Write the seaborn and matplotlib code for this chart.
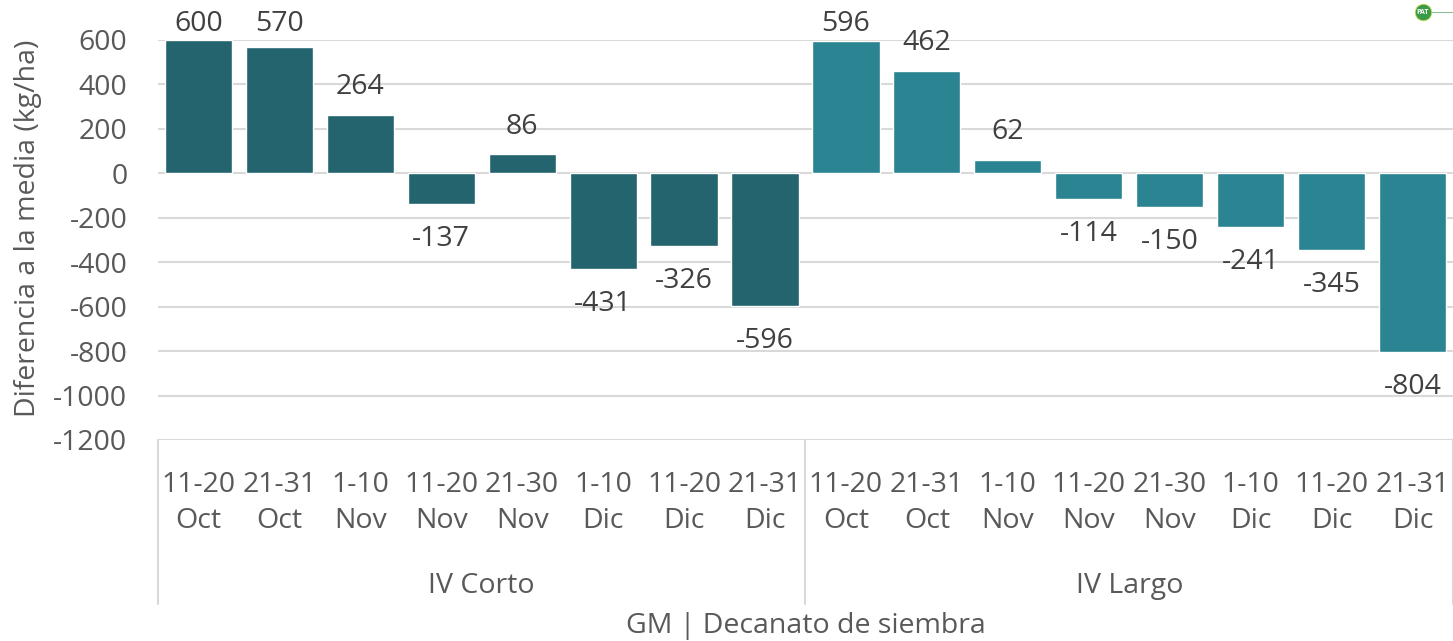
import numpy as np
import pandas as pd
import matplotlib
matplotlib.use("Agg")
import matplotlib.pyplot as plt
import matplotlib.transforms as mtransforms
import seaborn as sns

# datos
grupos = ["IV Corto"] * 8 + ["IV Largo"] * 8
decanatos = ["11-20\nOct", "21-31\nOct", "1-10\nNov", "11-20\nNov", "21-30\nNov",
             "1-10\nDic", "11-20\nDic", "21-31\nDic"]
valores_corto = [600, 570, 264, -137, 86, -431, -326, -596]
valores_largo = [596, 462, 62, -114, -150, -241, -345, -804]
colores = {"IV Corto": "#23646E", "IV Largo": "#2A8491"}

df = pd.DataFrame({
    "grupo": grupos,
    "decanato": decanatos * 2,
    "valor": valores_corto + valores_largo,
})
df["pos"] = [f"{g}|{d}" for g, d in zip(df.grupo, df.decanato)]

sns.set_style("white")
plt.rcParams["font.family"] = ["Open Sans", "DejaVu Sans"]
plt.rcParams["axes.unicode_minus"] = False
gris = "#595959"
oscuro = "#404040"
fs = 20.5

fig = plt.figure(figsize=(14.53, 6.41), dpi=100)
ax = fig.add_axes([0.1087, 0.3136, 0.8913, 0.624])

sns.barplot(data=df, x="pos", y="valor", hue="grupo", palette=colores,
            dodge=False, width=0.83, legend=False, ax=ax, saturation=1)

ax.set_ylim(-1200, 600)
ax.set_xlim(-0.5, len(df) - 0.5)
ax.set_yticks(np.arange(-1200, 601, 200))
ax.yaxis.grid(True, color="#D9D9D9", linewidth=1.5)
ax.set_axisbelow(True)
for s in ax.spines.values():
    s.set_visible(False)
ax.tick_params(axis="y", length=0, pad=22, labelsize=fs, labelcolor=gris)
ax.tick_params(axis="x", length=0, pad=22, labelsize=fs, labelcolor=gris)
ax.set_xticks(range(len(df)))
ax.set_xticklabels(df.decanato, linespacing=1.4)
ax.set_xlabel("")
ax.set_ylabel("Diferencia a la media (kg/ha)", fontsize=fs, color=gris,
              family=["Liberation Sans Narrow", "Open Sans"])
ax.yaxis.set_label_coords(-0.0896, 0.53)

# etiquetas de datos (Excel las mantiene dentro del area del grafico)
for i, v in enumerate(df.valor):
    if v >= 0:
        ax.text(i, min(v + 60, 610), str(v), ha="center", va="bottom",
                fontsize=fs, color=oscuro, clip_on=False)
    else:
        ax.text(i, v - 95, str(v), ha="center", va="top", fontsize=fs, color=oscuro)

# eje de categorias de dos niveles
tr = mtransforms.blended_transform_factory(ax.transData, ax.transAxes)
for xv in [-0.5, 7.5, 15.5]:
    ax.plot([xv, xv], [0, -0.41], transform=tr, color="#D9D9D9", lw=1.5, clip_on=False)
for xg, g in [(3.5, "IV Corto"), (11.5, "IV Largo")]:
    ax.text(xg, -0.365, g, transform=tr, ha="center", va="center",
            fontsize=fs, color=gris)
ax.text(7.5, -0.466, "GM | Decanato de siembra", transform=tr, ha="center",
        va="center", fontsize=fs, color=gris)

# marca PAT
yc = 1 - 12 / 641
fig.add_artist(plt.Line2D([1431 / 1453, 1.0], [yc, yc], transform=fig.transFigure,
                          color="#8FBF95", lw=0.8))
fig.add_artist(plt.Line2D([1423 / 1453], [yc], transform=fig.transFigure, marker="o",
                          markersize=12, color="#3A9A48", markeredgecolor="#D8E86A",
                          markeredgewidth=0.6))
fig.text(1423 / 1453, yc, "PAT", ha="center", va="center",
         fontsize=5, color="white", weight="bold")

fig.savefig("out.png", dpi=100)
